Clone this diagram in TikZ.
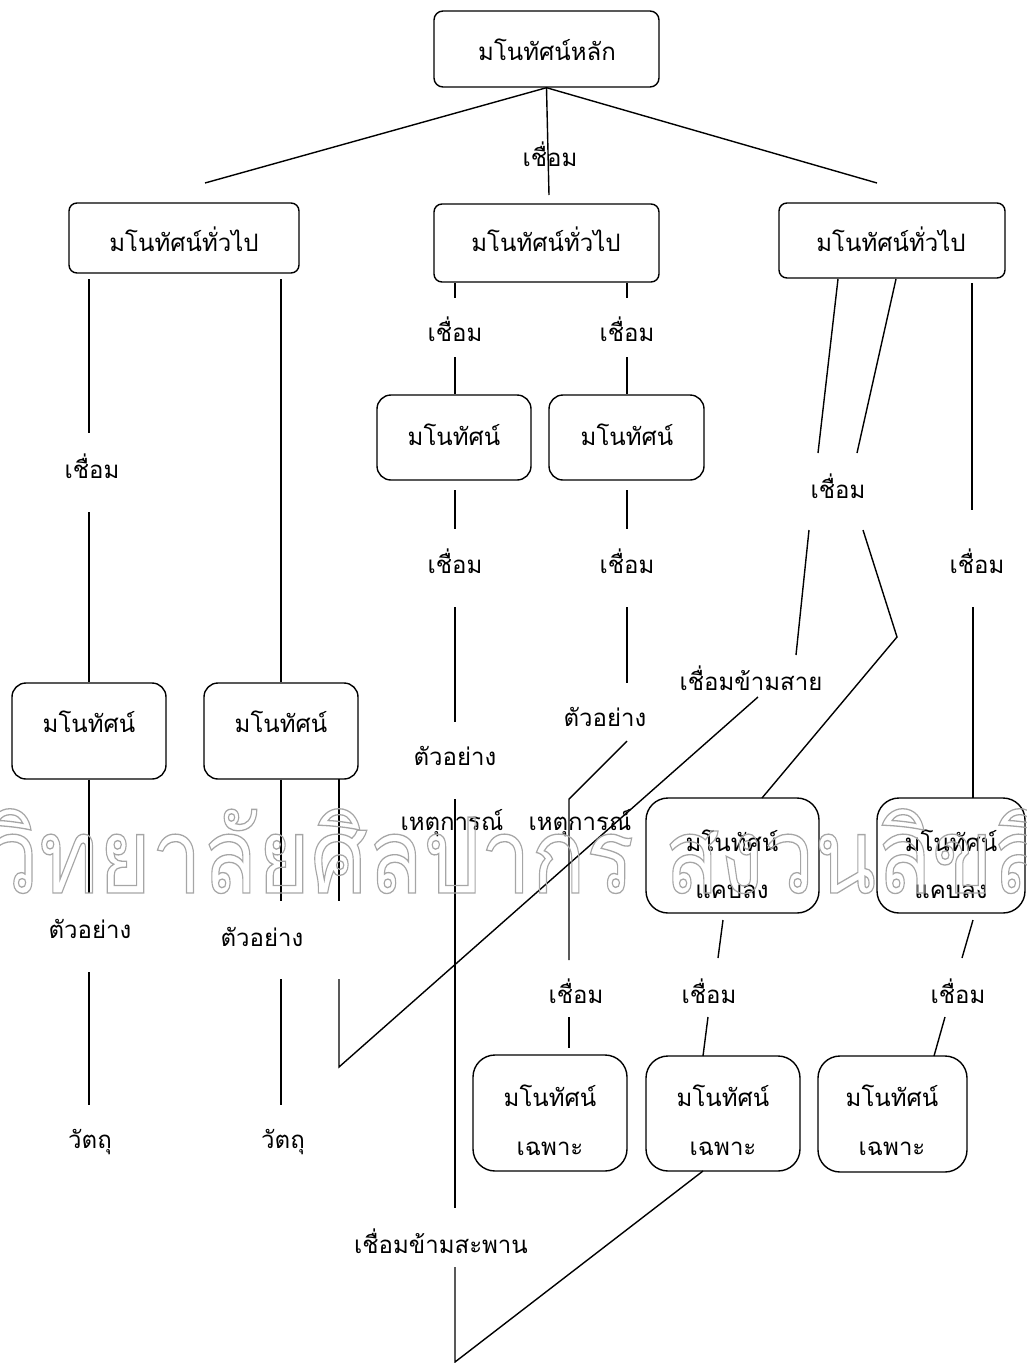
\documentclass[tikz,border=0pt]{standalone}
\usepackage{fontspec}
\newfontfamily\thaifont[Script=Thai]{Loma}
\newcommand\outlineon{\special{pdf:literal direct 1 Tr 1.3 w}}
\newcommand\outlineoff{\special{pdf:literal direct 0 Tr}}
\begin{document}
\begin{tikzpicture}[x=1pt,y=-1pt,
  txt/.style={inner sep=0pt, anchor=base, font=\thaifont\fontsize{24}{28}\selectfont},
  box/.style={draw, line width=1.4pt, inner sep=0pt},
  ln/.style={line width=1.4pt}]
\useasboundingbox (0,0) rectangle (1027,1363);
% ---------- boxes ----------
\node[box, rounded corners=9pt, minimum width=225pt, minimum height=76pt] (main) at (546.5,49) {};
\node[box, rounded corners=8pt, minimum width=230pt, minimum height=70pt] (genL) at (184,238) {};
\node[box, rounded corners=8pt, minimum width=225pt, minimum height=78pt] (genM) at (546.5,243) {};
\node[box, rounded corners=8pt, minimum width=226pt, minimum height=75pt] (genR) at (892,240.5) {};
\node[box, rounded corners=14pt, minimum width=154pt, minimum height=85pt] (cM1) at (454,437.5) {};
\node[box, rounded corners=14pt, minimum width=155pt, minimum height=85pt] (cM2) at (626.5,437.5) {};
\node[box, rounded corners=14pt, minimum width=154pt, minimum height=96pt] (cL1) at (89,731) {};
\node[box, rounded corners=14pt, minimum width=154pt, minimum height=96pt] (cL2) at (281,731) {};
\node[box, rounded corners=22pt, minimum width=173pt, minimum height=115pt] (nar1) at (732.5,855.5) {};
\node[box, rounded corners=22pt, minimum width=148pt, minimum height=115pt] (nar2) at (951,855.5) {};
\node[box, rounded corners=22pt, minimum width=154pt, minimum height=116pt] (sp1) at (550,1113) {};
\node[box, rounded corners=22pt, minimum width=154pt, minimum height=115pt] (sp2) at (723,1113.5) {};
\node[box, rounded corners=22pt, minimum width=149pt, minimum height=116pt] (sp3) at (892.5,1114) {};
% ---------- box texts ----------
\node[txt] (mainT) at (547,60) {มโนทัศน์หลัก};
\node[txt] (genLT) at (184,251) {มโนทัศน์ทั่วไป};
\node[txt] (genMT) at (546,251) {มโนทัศน์ทั่วไป};
\node[txt] (genRT) at (891,251) {มโนทัศน์ทั่วไป};
\node[txt] (cM1T) at (454,445) {มโนทัศน์};
\node[txt] (cM2T) at (627,445) {มโนทัศน์};
\node[txt] (cL1T) at (89,732) {มโนทัศน์};
\node[txt] (cL2T) at (281,732) {มโนทัศน์};
\node[txt] (nar1Ta) at (732,851) {มโนทัศน์};
\node[txt] (nar1Tb) at (732,898) {แคบลง};
\node[txt] (nar2Ta) at (951,851) {มโนทัศน์};
\node[txt] (nar2Tb) at (951,898) {แคบลง};
\node[txt] (sp1Ta) at (550,1106) {มโนทัศน์};
\node[txt] (sp1Tb) at (550,1155) {เฉพาะ};
\node[txt] (sp2Ta) at (723,1106) {มโนทัศน์};
\node[txt] (sp2Tb) at (723,1155) {เฉพาะ};
\node[txt] (sp3Ta) at (892,1106) {มโนทัศน์};
\node[txt] (sp3Tb) at (892,1155) {เฉพาะ};
% ---------- free labels ----------
\node[txt] (l0) at (550,166) {เชื่อม};
\node[txt] (lA) at (92,478) {เชื่อม};
\node[txt] (lB) at (90,938) {ตัวอย่าง};
\node[txt] (lC) at (262,946) {ตัวอย่าง};
\node[txt] (lD) at (90,1148) {วัตถุ};
\node[txt] (lE) at (283,1148) {วัตถุ};
\node[txt] (lF) at (455,341) {เชื่อม};
\node[txt] (lG) at (627,341) {เชื่อม};
\node[txt] (lH) at (455,573) {เชื่อม};
\node[txt] (lI) at (627,573) {เชื่อม};
\node[txt] (lJ) at (455,765) {ตัวอย่าง};
\node[txt] (lK) at (605,726) {ตัวอย่าง};
\node[txt] (lL) at (452,830) {เหตุการณ์};
\node[txt] (lM) at (580,830) {เหตุการณ์};
\node[txt] (lN) at (441,1253) {เชื่อมข้ามสะพาน};
\node[txt] (lO) at (838,498) {เชื่อม};
\node[txt] (lP) at (977,573) {เชื่อม};
\node[txt] (lQ) at (751,690) {เชื่อมข้ามสาย};
\node[txt] (lR) at (576,1003) {เชื่อม};
\node[txt] (lS) at (709,1003) {เชื่อม};
\node[txt] (lT) at (958,1003) {เชื่อม};
% ---------- connector end points ----------
\coordinate (tL) at (205,183);
\coordinate (tR) at (877,183);
\coordinate (tM) at (549,195);
\coordinate (a1) at (89,279);  \coordinate (a2) at (89,433);
\coordinate (a3) at (89,512);
\coordinate (a4) at (89,893);  \coordinate (a5) at (89,972);  \coordinate (a6) at (89,1105);
\coordinate (b1) at (281,279);
\coordinate (b2) at (281,901); \coordinate (b3) at (281,979); \coordinate (b4) at (281,1105);
\coordinate (c0) at (339,779); \coordinate (c1) at (339,901);
\coordinate (c2) at (339,979); \coordinate (c3) at (339,1067); \coordinate (c4) at (758,697);
\coordinate (d1) at (455,283); \coordinate (d2) at (455,298); \coordinate (d3) at (455,357);
\coordinate (d4) at (455,490); \coordinate (d5) at (455,529); \coordinate (d6) at (455,607);
\coordinate (d7) at (455,722); \coordinate (d8) at (455,799); \coordinate (d9) at (455,1208);
\coordinate (d10) at (455,1267); \coordinate (d11) at (455,1362); \coordinate (d12) at (703,1171);
\coordinate (e1) at (627,283); \coordinate (e2) at (627,298); \coordinate (e3) at (627,357);
\coordinate (e4) at (627,490); \coordinate (e5) at (627,529); \coordinate (e6) at (627,607);
\coordinate (e7) at (627,683); \coordinate (e8) at (627,741); \coordinate (e9) at (569,799);
\coordinate (e10) at (569,960); \coordinate (e11) at (569,1017); \coordinate (e12) at (569,1048);
\coordinate (f1) at (838,279); \coordinate (f2) at (818,453);
\coordinate (g1) at (896,279); \coordinate (g2) at (857,453);
\coordinate (h1) at (972,283); \coordinate (h2) at (972,510);
\coordinate (f3) at (809,530); \coordinate (f4) at (796,655);
\coordinate (g3) at (863,530); \coordinate (g4) at (897,637); \coordinate (g5) at (762,798);
\coordinate (h3) at (973,607); \coordinate (h4) at (973,798);
\coordinate (i1) at (723,920); \coordinate (i2) at (718,958);
\coordinate (i3) at (708,1017); \coordinate (i4) at (703,1056);
\coordinate (j1) at (973,920); \coordinate (j2) at (962,958);
\coordinate (j3) at (945,1017); \coordinate (j4) at (934,1056);
% ---------- connectors ----------
\draw[ln] (tL) -- (main.south) -- (tR);
\draw[ln] (main.south) -- (tM);
\draw[ln] (a1) -- (a2);
\draw[ln] (a3) -- (a3 |- cL1.north);
\draw[ln] (b1) -- (b1 |- cL2.north);
\draw[ln] (a4 |- cL1.south) -- (a4);
\draw[ln] (a5) -- (a6);
\draw[ln] (b2 |- cL2.south) -- (b2);
\draw[ln] (b3) -- (b4);
\draw[ln] (c0) -- (c1);
\draw[ln] (c2) -- (c3) -- (c4);
\draw[ln] (d1) -- (d2);
\draw[ln] (d3) -- (d3 |- cM1.north);
\draw[ln] (d4) -- (d5);
\draw[ln] (d6) -- (d7);
\draw[ln] (d8) -- (d9);
\draw[ln] (d10) -- (d11) -- (d12);
\draw[ln] (e1) -- (e2);
\draw[ln] (e3) -- (e3 |- cM2.north);
\draw[ln] (e4) -- (e5);
\draw[ln] (e6) -- (e7);
\draw[ln] (e8) -- (e9) -- (e10);
\draw[ln] (e11) -- (e12);
\draw[ln] (f1) -- (f2);
\draw[ln] (g1) -- (g2);
\draw[ln] (h1) -- (h2);
\draw[ln] (f3) -- (f4);
\draw[ln] (g3) -- (g4) -- (g5);
\draw[ln] (h3) -- (h4);
\draw[ln] (i1) -- (i2);
\draw[ln] (i3) -- (i4);
\draw[ln] (j1) -- (j2);
\draw[ln] (j3) -- (j4);
% ---------- watermark ----------
\node[inner sep=0pt, anchor=base west, text=black!35] (wm) at (-12,893)
  {\scalebox{0.86}[1]{\thaifont\fontsize{105}{105}\selectfont\outlineon วิทยาลัยศิลปากร สงวนลิขสิทธิ์\outlineoff}};
\end{tikzpicture}
\end{document}
